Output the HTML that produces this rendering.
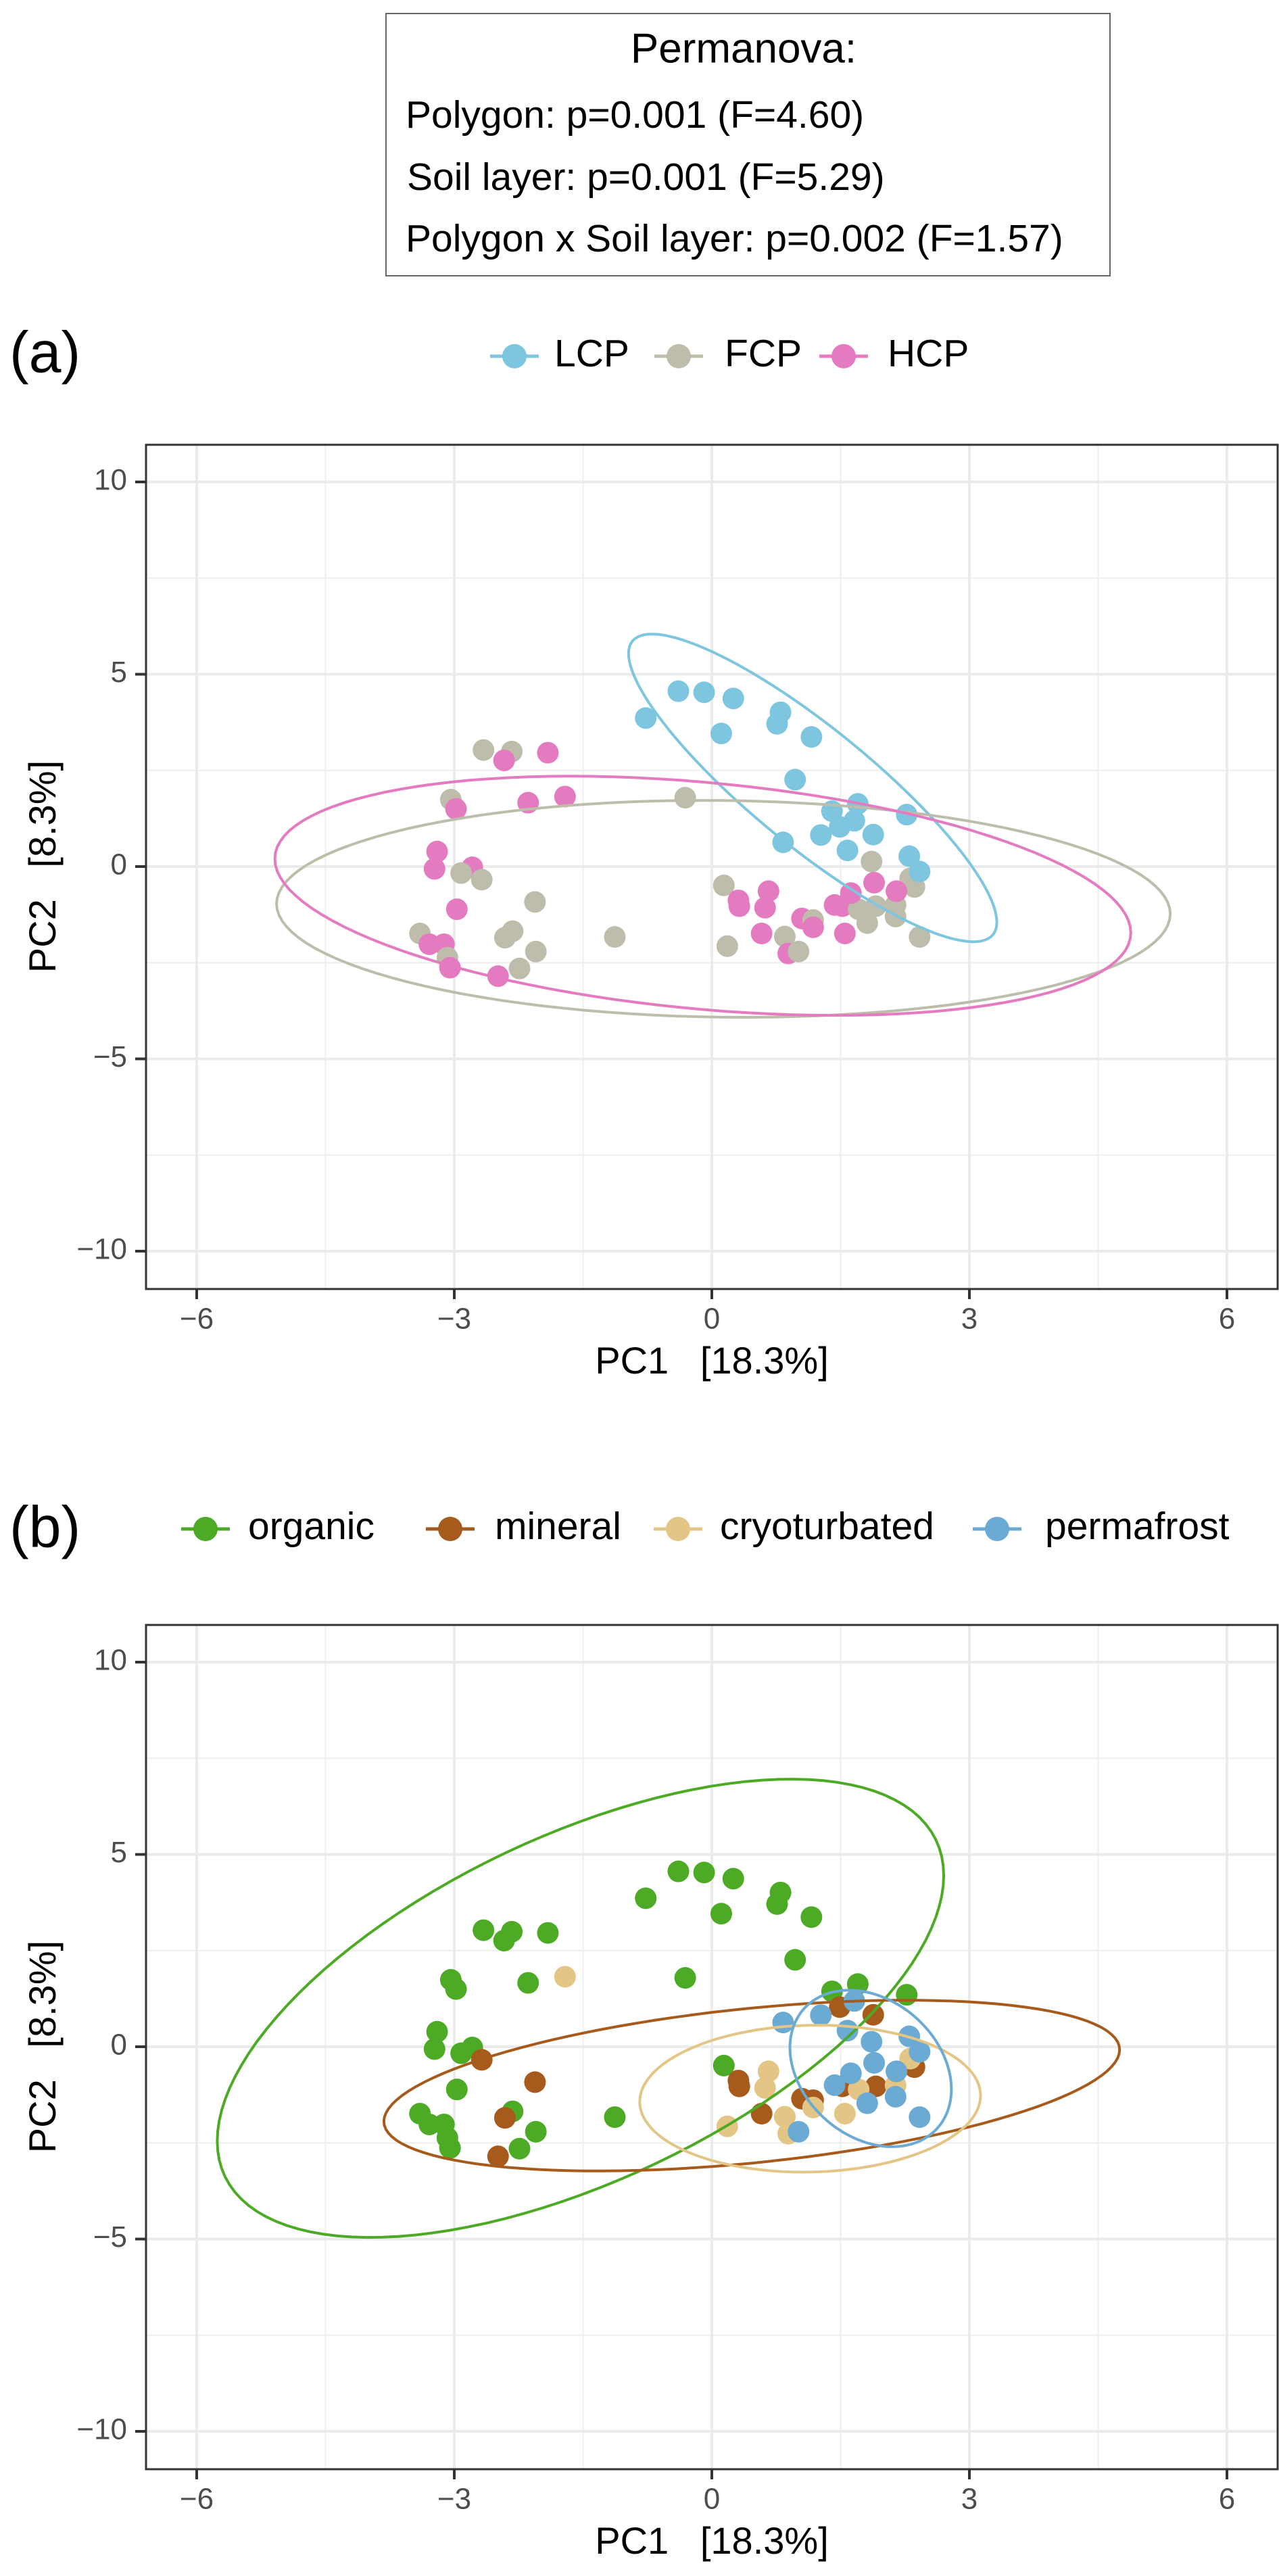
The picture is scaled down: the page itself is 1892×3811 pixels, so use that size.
<!DOCTYPE html>
<html><head><meta charset="utf-8">
<style>
html,body{margin:0;padding:0;background:#fff;}
svg{display:block;font-family:"Liberation Sans",Arial,sans-serif;}
.pre{white-space:pre;}
</style></head>
<body>
<svg id="fig" width="1892" height="3811" viewBox="0 0 1892 3811" xmlns="http://www.w3.org/2000/svg">
<rect x="0" y="0" width="1892" height="3811" fill="#fff"/>
<g>
<rect x="571" y="20" width="1071" height="388" fill="#fff" stroke="#666" stroke-width="2"/>
<text x="1100" y="76" font-size="62" text-anchor="middle" dominant-baseline="middle">Permanova:</text>
<text x="600" y="174" font-size="57" dominant-baseline="middle">Polygon: p=0.001 (F=4.60)</text>
<text x="602" y="266" font-size="57" dominant-baseline="middle">Soil layer: p=0.001 (F=5.29)</text>
<text x="600" y="357" font-size="57" dominant-baseline="middle">Polygon x Soil layer: p=0.002 (F=1.57)</text>
</g>
<text x="14" y="528" font-size="86" dominant-baseline="middle">(a)</text>
<text x="14" y="2266" font-size="86" dominant-baseline="middle">(b)</text>
<g id="panelA"></g>
<g id="panelB"></g>
</svg>
<script>
// ---- data (PC scores) ----
const pc1 = [-0.39,-0.09,0.25,-0.77,0.80,0.76,0.11,1.16,0.97,-2.66,-2.33,-2.42,-1.91,-3.04,-2.98,-2.14,-0.31,1.40,1.70,2.27,-3.20,-3.23,-2.79,-2.92,-2.97,-3.40,-3.29,-3.12,-3.08,-3.05,-2.32,-2.05,-2.24,-1.13,0.14,
 -2.68,-2.06,-2.41,-2.49,0.31,0.32,1.49,1.88,0.58,1.05,1.18,1.52,1.91,2.36,
 -1.71,0.66,0.62,0.18,0.85,0.89,1.18,1.55,1.71,2.14,2.31,
 0.83,1.27,1.66,1.58,1.86,2.30,2.42,1.89,1.62,1.43,1.81,2.14,2.15,2.42,1.01];
const pc2 = [4.56,4.53,4.37,3.86,4.01,3.71,3.46,3.37,2.26,3.03,2.99,2.76,2.96,1.74,1.50,1.66,1.79,1.44,1.63,1.35,0.39,-0.06,-0.02,-0.17,-1.11,-1.74,-2.02,-2.02,-2.37,-2.63,-1.68,-2.21,-2.65,-1.83,-0.49,
 -0.34,-0.92,-1.85,-2.85,-0.88,-1.03,1.03,0.83,-1.74,-1.35,-1.39,-1.03,-1.03,-0.53,
 1.82,-0.64,-1.07,-2.07,-1.82,-2.26,-1.58,-1.74,-1.11,-1.00,-0.31,
 0.63,0.82,1.19,0.42,0.13,0.27,-0.13,-0.42,-0.69,-1.00,-1.47,-1.30,-0.64,-1.83,-2.21];
const polygon = ["L","L","L","L","L","L","L","L","L","F","F","H","H","F","H","H","F","L","L","L","H","H","H","F","H","F","H","H","F","H","F","F","F","F","F",
 "F","F","F","H","H","H","L","L","H","H","F","H","F","F",
 "H","H","H","F","F","H","H","H","F","F","F",
 "L","L","L","L","F","L","L","H","H","H","F","F","H","F","F"];
const soil = ["o","o","o","o","o","o","o","o","o","o","o","o","o","o","o","o","o","o","o","o","o","o","o","o","o","o","o","o","o","o","o","o","o","o","o",
 "m","m","m","m","m","m","m","m","m","m","m","m","m","m",
 "c","c","c","c","c","c","c","c","c","c","c",
 "p","p","p","p","p","p","p","p","p","p","p","p","p","p","p"];
const polyCats = ["L","F","H"];
const polyLabels = ["LCP","FCP","HCP"];
const soilCats = ["o","m","c","p"];
const soilLabels = ["organic","mineral","cryoturbated","permafrost"];
// ellipse params: centre x, centre y, Sxx, Sxy, Syy (data units)
const ellA_cx = [1.175,0.135,-0.105];
const ellA_cy = [2.045,-1.10,-0.76];
const ellA_sxx = [4.60,27.09,24.85];
const ellA_sxy = [-7.49,-0.68,-4.79];
const ellA_syy = [16.0,7.95,9.67];
const ellB_cx = [-1.53,0.465,1.145,1.85];
const ellB_cy = [1.0,-1.01,-1.35,-0.565];
const ellB_sxx = [17.9,18.36,3.94,0.884];
const ellB_sxy = [14.6,3.99,0.16,-0.51];
const ellB_syy = [35.5,4.93,3.65,4.14];
const xTicks = [-6,-3,0,3,6];
const xTickLabels = ["\u22126","\u22123","0","3","6"];
const yTicks = [-10,-5,0,5,10];
const yTickLabels = ["\u221210","\u22125","0","5","10"];
const xMinor = [-4.5,-1.5,1.5,4.5];
const yMinor = [-7.5,-2.5,2.5,7.5];

const polyColors = {L:"#7EC6DF",F:"#BEBDAC",H:"#E47ABF"};
const soilColors = {o:"#4CAA25",m:"#A65A1C",c:"#E3C585",p:"#6AAAD3"};
const NS = "http://www.w3.org/2000/svg";
function mk(tag, attrs, parent){const e=document.createElementNS(NS,tag);for(const k in attrs)e.setAttribute(k,attrs[k]);parent.appendChild(e);return e;}

const PL=216, PR=1890;
function X(v){return 1053 + v*127;}

function panel(g, top, cats, labels, colors, groupArr, ecx, ecy, esxx, esxy, esyy, legendY, legendXs, textXs){
  const zeroY = top + 624;
  const Y = v => zeroY - v*56.9;
  const bottom = top + 1249;
  const bg = mk('rect',{x:PL,y:top,width:PR-PL,height:1249,fill:'#fff'},g);
  
  
  xMinor.forEach(v=>{const l=mk('line',{x1:X(v),x2:X(v),y1:top,y2:bottom,stroke:'#EEEEEE','stroke-width':2},g);
    
    });
  yMinor.forEach(v=>{const l=mk('line',{x1:PL,x2:PR,y1:Y(v),y2:Y(v),stroke:'#EEEEEE','stroke-width':2},g);
    
    });
  xTicks.forEach((v,i)=>{
    const l=mk('line',{x1:X(v),x2:X(v),y1:top,y2:bottom,stroke:'#EBEBEB','stroke-width':4},g);
    
    
    const t=mk('line',{x1:X(v),x2:X(v),y1:bottom,y2:bottom+15,stroke:'#333','stroke-width':4},g);
    
    
    const tx=mk('text',{x:X(v),y:bottom+47,'font-size':44,fill:'#4D4D4D','text-anchor':'middle','dominant-baseline':'middle'},g);
    tx.textContent=xTickLabels[i];
    
    
  });
  yTicks.forEach((v,i)=>{
    const l=mk('line',{x1:PL,x2:PR,y1:Y(v),y2:Y(v),stroke:'#EBEBEB','stroke-width':4},g);
    
    
    const t=mk('line',{x1:200,x2:PL,y1:Y(v),y2:Y(v),stroke:'#333','stroke-width':4},g);
    
    
    const tx=mk('text',{x:188,y:Y(v),'font-size':44,fill:'#4D4D4D','text-anchor':'end','dominant-baseline':'middle'},g);
    tx.textContent=yTickLabels[i];
    
    
  });
  for(let i=0;i<pc1.length;i++){
    const c=mk('ellipse',{cx:X(pc1[i]),cy:Y(pc2[i]),rx:16,ry:16,fill:colors[groupArr[i]]},g);
    
    
  }
  cats.forEach((cat,k)=>{
    const l11=Math.sqrt(esxx[k]), l21=esxy[k]/l11, l22=Math.sqrt(Math.max(esyy[k]-l21*l21,0.0001));
    let d='';
    for(let s=0;s<=120;s++){const t=s/120*2*Math.PI;
      const vx=ecx[k]+l11*Math.cos(t), vy=ecy[k]+l21*Math.cos(t)+l22*Math.sin(t);
      d+=(s?'L':'M')+X(vx).toFixed(1)+','+Y(vy).toFixed(1);}
    const p=mk('path',{d:d+'Z',fill:'none',stroke:colors[cat],'stroke-width':4},g);
    
    
  });
  const border=mk('rect',{x:PL,y:top,width:PR-PL,height:1249,fill:'none',stroke:'#333','stroke-width':3},g);
  
  
  const xt=mk('text',{x:1053,y:bottom+110,'font-size':56,'text-anchor':'middle','dominant-baseline':'middle','class':'pre'},g);
  xt.textContent='PC1   [18.3%]';
  
  
  const yt=mk('text',{x:0,y:0,'font-size':56,'text-anchor':'middle','dominant-baseline':'middle',transform:'translate(67,'+zeroY+') rotate(-90)','class':'pre'},g);
  yt.textContent='PC2   [8.3%]';
  
  
  cats.forEach((cat,k)=>{
    const lg=mk('g',{},g);
    
    
    mk('line',{x1:legendXs[k]-36,x2:legendXs[k]+36,y1:legendY,y2:legendY,stroke:colors[cat],'stroke-width':5},lg);
    mk('circle',{cx:legendXs[k],cy:legendY,r:18,fill:colors[cat]},lg);
    const t=mk('text',{x:textXs[k],y:legendY,'font-size':57,'dominant-baseline':'middle'},lg);
    t.textContent=labels[k];
  });
}
panel(document.getElementById('panelA'),658,polyCats,polyLabels,polyColors,polygon,ellA_cx,ellA_cy,ellA_sxx,ellA_sxy,ellA_syy,527,[761,1004,1248],[820,1072,1313]);
panel(document.getElementById('panelB'),2404,soilCats,soilLabels,soilColors,soil,ellB_cx,ellB_cy,ellB_sxx,ellB_sxy,ellB_syy,2262,[304,666,1003,1475],[367,732,1065,1546]);
</script>
</body></html>
